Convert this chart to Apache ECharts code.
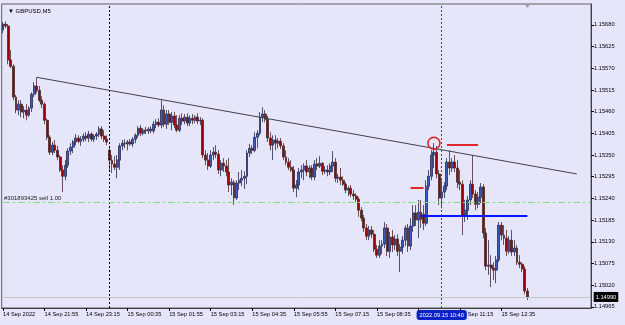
<!DOCTYPE html>
<html><head><meta charset="utf-8">
<script src="https://cdn.jsdelivr.net/npm/echarts@6/dist/echarts.min.js"></script>
<style>html,body{margin:0;padding:0;background:#e6e6fa}#c{width:625px;height:325px}</style>
</head><body><div id="c"></div>
<script>
const symbolTitle = '\u25BC GBPUSD,M5';
const openP = [
1.15667,1.15682,1.15677,1.15591,1.15575,1.15497,1.15464,1.15479,1.15459,1.15464,
1.15451,1.15469,1.15504,1.15525,1.15514,1.15489,1.15479,1.15438,1.15395,1.15357,
1.15375,1.15362,1.15345,1.15312,1.15296,1.15324,1.15360,1.15370,1.15383,1.15393,
1.15385,1.15390,1.15398,1.15393,1.15403,1.15390,1.15398,1.15403,1.15416,1.15398,
1.15390,1.15362,1.15337,1.15327,1.15319,1.15337,1.15373,1.15380,1.15378,1.15383,
1.15378,1.15390,1.15400,1.15418,1.15405,1.15413,1.15411,1.15416,1.15411,1.15428,
1.15433,1.15426,1.15464,1.15428,1.15454,1.15433,1.15449,1.15426,1.15413,1.15443,
1.15436,1.15446,1.15431,1.15443,1.15438,1.15446,1.15436,1.15438,1.15350,1.15337,
1.15322,1.15350,1.15357,1.15352,1.15312,1.15329,1.15322,1.15307,1.15274,1.15281,
1.15241,1.15279,1.15286,1.15291,1.15296,1.15355,1.15367,1.15362,1.15395,1.15405,
1.15446,1.15454,1.15441,1.15393,1.15375,1.15388,1.15380,1.15385,1.15373,1.15345,
1.15332,1.15319,1.15312,1.15266,1.15274,1.15307,1.15312,1.15322,1.15307,1.15317,
1.15294,1.15327,1.15322,1.15329,1.15309,1.15312,1.15307,1.15322,1.15332,1.15291,
1.15294,1.15286,1.15276,1.15261,1.15266,1.15251,1.15246,1.15238,1.15210,1.15190,
1.15165,1.15144,1.15160,1.15149,1.15111,1.15096,1.15119,1.15124,1.15165,1.15106,
1.15142,1.15122,1.15137,1.15106,1.15116,1.15134,1.15165,1.15119,1.15170,1.15203,
1.15185,1.15205,1.15200,1.15177,1.15271,1.15296,1.15350,1.15357,1.15302,1.15241,
1.15256,1.15271,1.15332,1.15317,1.15332,1.15317,1.15281,1.15276,1.15198,1.15210,
1.15236,1.15276,1.15251,1.15225,1.15243,1.15269,1.15152,1.15068,1.15071,1.15063,
1.15058,1.15084,1.15172,1.15147,1.15139,1.15106,1.15134,1.15104,1.15114,1.15078,
1.15073,1.15061,1.15005];
const highP = [
1.15687,1.15689,1.15682,1.15616,1.15580,1.15502,1.15489,1.15489,1.15474,1.15479,
1.15474,1.15509,1.15535,1.15547,1.15525,1.15499,1.15484,1.15443,1.15400,1.15383,
1.15388,1.15373,1.15350,1.15324,1.15337,1.15367,1.15380,1.15388,1.15403,1.15400,
1.15398,1.15405,1.15408,1.15411,1.15408,1.15403,1.15408,1.15423,1.15423,1.15413,
1.15400,1.15373,1.15350,1.15347,1.15350,1.15380,1.15388,1.15390,1.15388,1.15390,
1.15395,1.15405,1.15423,1.15426,1.15418,1.15421,1.15421,1.15423,1.15436,1.15441,
1.15443,1.15489,1.15476,1.15464,1.15464,1.15459,1.15459,1.15451,1.15451,1.15456,
1.15454,1.15456,1.15451,1.15454,1.15451,1.15456,1.15446,1.15443,1.15362,1.15355,
1.15362,1.15370,1.15375,1.15362,1.15337,1.15342,1.15337,1.15342,1.15291,1.15286,
1.15286,1.15307,1.15312,1.15309,1.15362,1.15378,1.15375,1.15408,1.15413,1.15459,
1.15471,1.15464,1.15449,1.15408,1.15400,1.15400,1.15393,1.15393,1.15380,1.15362,
1.15342,1.15337,1.15322,1.15286,1.15317,1.15324,1.15329,1.15337,1.15324,1.15324,
1.15337,1.15342,1.15347,1.15332,1.15322,1.15324,1.15329,1.15360,1.15342,1.15302,
1.15317,1.15296,1.15281,1.15271,1.15274,1.15261,1.15253,1.15243,1.15218,1.15198,
1.15175,1.15170,1.15170,1.15160,1.15122,1.15134,1.15134,1.15180,1.15175,1.15155,
1.15160,1.15147,1.15149,1.15124,1.15144,1.15172,1.15175,1.15190,1.15223,1.15223,
1.15236,1.15236,1.15223,1.15286,1.15312,1.15362,1.15380,1.15373,1.15312,1.15286,
1.15281,1.15342,1.15362,1.15342,1.15350,1.15337,1.15312,1.15286,1.15236,1.15246,
1.15286,1.15350,1.15261,1.15256,1.15279,1.15276,1.15165,1.15134,1.15096,1.15078,
1.15094,1.15180,1.15180,1.15172,1.15160,1.15144,1.15160,1.15134,1.15122,1.15096,
1.15078,1.15068,1.15013];
const lowP = [
1.15659,1.15672,1.15580,1.15570,1.15489,1.15456,1.15451,1.15446,1.15443,1.15438,
1.15446,1.15459,1.15497,1.15507,1.15484,1.15469,1.15428,1.15388,1.15350,1.15350,
1.15355,1.15337,1.15307,1.15256,1.15286,1.15317,1.15350,1.15355,1.15375,1.15380,
1.15373,1.15383,1.15385,1.15383,1.15385,1.15383,1.15388,1.15395,1.15390,1.15383,
1.15375,1.15307,1.15304,1.15312,1.15291,1.15312,1.15362,1.15367,1.15362,1.15373,
1.15370,1.15380,1.15393,1.15398,1.15400,1.15403,1.15403,1.15405,1.15405,1.15418,
1.15421,1.15418,1.15421,1.15416,1.15426,1.15413,1.15418,1.15408,1.15408,1.15426,
1.15428,1.15423,1.15423,1.15428,1.15431,1.15428,1.15426,1.15342,1.15324,1.15312,
1.15317,1.15337,1.15342,1.15302,1.15296,1.15307,1.15296,1.15256,1.15248,1.15223,
1.15236,1.15261,1.15271,1.15264,1.15276,1.15345,1.15352,1.15357,1.15367,1.15400,
1.15433,1.15433,1.15383,1.15362,1.15337,1.15362,1.15367,1.15365,1.15337,1.15324,
1.15312,1.15307,1.15256,1.15243,1.15261,1.15291,1.15286,1.15296,1.15291,1.15286,
1.15286,1.15312,1.15317,1.15299,1.15302,1.15296,1.15299,1.15307,1.15281,1.15279,
1.15274,1.15271,1.15253,1.15246,1.15243,1.15236,1.15231,1.15193,1.15182,1.15155,
1.15134,1.15134,1.15139,1.15104,1.15089,1.15089,1.15099,1.15114,1.15094,1.15089,
1.15104,1.15109,1.15094,1.15053,1.15099,1.15119,1.15104,1.15109,1.15155,1.15170,
1.15139,1.15165,1.15160,1.15170,1.15261,1.15286,1.15317,1.15291,1.15223,1.15215,
1.15241,1.15261,1.15299,1.15307,1.15307,1.15266,1.15261,1.15147,1.15180,1.15185,
1.15223,1.15241,1.15210,1.15215,1.15228,1.15139,1.15058,1.15046,1.15015,1.15033,
1.15025,1.15078,1.15134,1.15122,1.15094,1.15099,1.15094,1.15094,1.15071,1.15063,
1.15053,1.14997,1.14982];
const closeP = [
1.15682,1.15677,1.15591,1.15575,1.15497,1.15464,1.15479,1.15459,1.15464,1.15451,
1.15469,1.15504,1.15525,1.15514,1.15489,1.15479,1.15438,1.15395,1.15357,1.15375,
1.15362,1.15345,1.15312,1.15296,1.15324,1.15360,1.15370,1.15383,1.15393,1.15385,
1.15390,1.15398,1.15393,1.15403,1.15390,1.15398,1.15403,1.15416,1.15398,1.15390,
1.15383,1.15337,1.15327,1.15319,1.15337,1.15373,1.15380,1.15378,1.15383,1.15378,
1.15390,1.15400,1.15418,1.15405,1.15413,1.15411,1.15416,1.15411,1.15428,1.15433,
1.15426,1.15464,1.15428,1.15454,1.15433,1.15449,1.15426,1.15413,1.15443,1.15436,
1.15446,1.15431,1.15443,1.15438,1.15446,1.15436,1.15438,1.15350,1.15337,1.15322,
1.15350,1.15357,1.15352,1.15312,1.15329,1.15322,1.15307,1.15274,1.15281,1.15241,
1.15279,1.15286,1.15291,1.15296,1.15355,1.15367,1.15362,1.15395,1.15405,1.15446,
1.15454,1.15441,1.15393,1.15375,1.15388,1.15380,1.15385,1.15373,1.15345,1.15332,
1.15319,1.15312,1.15266,1.15274,1.15307,1.15312,1.15322,1.15307,1.15317,1.15294,
1.15327,1.15322,1.15329,1.15309,1.15312,1.15307,1.15322,1.15332,1.15291,1.15294,
1.15286,1.15276,1.15261,1.15266,1.15251,1.15246,1.15238,1.15210,1.15190,1.15165,
1.15144,1.15160,1.15149,1.15111,1.15096,1.15119,1.15124,1.15165,1.15106,1.15142,
1.15122,1.15137,1.15106,1.15116,1.15134,1.15165,1.15119,1.15170,1.15203,1.15185,
1.15205,1.15187,1.15177,1.15271,1.15296,1.15350,1.15357,1.15302,1.15241,1.15256,
1.15271,1.15332,1.15317,1.15332,1.15317,1.15281,1.15276,1.15198,1.15210,1.15236,
1.15276,1.15251,1.15225,1.15243,1.15269,1.15152,1.15068,1.15071,1.15063,1.15058,
1.15084,1.15172,1.15147,1.15139,1.15106,1.15134,1.15104,1.15114,1.15078,1.15073,
1.15061,1.15005,1.14990];
const tickLabels = ['14 Sep 2022','14 Sep 21:55','14 Sep 23:15','15 Sep 00:35','15 Sep 01:55','15 Sep 03:15','15 Sep 04:35','15 Sep 05:55','15 Sep 07:15','15 Sep 08:35','15 Sep 09:55','15 Sep 11:15','15 Sep 12:35'];
const priceTicks = [1.14965,1.15020,1.15075,1.15130,1.15185,1.15240,1.15295,1.15350,1.15405,1.15460,1.15515,1.15570,1.15625,1.15680];
const bidPrice = 1.14990;
const orderPrice = 1.15231;
const orderLabel = '#301893425 sell 1.00';
const crossIndex = 169;
const crossLabel = '2022.09.15 10:40';
const separatorIndex = 41;
const shiftIndex = 202;
const trendStart = [13, 1.15547];
const trendEnd = [221, 1.15302];
const circlePoint = [166, 1.15380];
const redSeg1 = [[171, 1.15375], [183, 1.15375]];
const redSeg2 = [[157, 1.15268], [162, 1.15268]];
const blueSeg = [[161, 1.15196], [202, 1.15196]];
const priceMin = 1.14962, priceMax = 1.15733;

// time categories (5-minute bars)
const slotCount = 227;
const mon = ['Jan','Feb','Mar','Apr','May','Jun','Jul','Aug','Sep','Oct','Nov','Dec'];
const t0 = Date.UTC(2022, 8, 14, 20, 35);
const pad = n => (n < 10 ? '0' : '') + n;
const cats = [];
for (let i = 0; i < slotCount; i++) {
  const d = new Date(t0 + i * 300000);
  cats.push(pad(d.getUTCDate()) + ' ' + mon[d.getUTCMonth()] + ' ' + pad(d.getUTCHours()) + ':' + pad(d.getUTCMinutes()));
}
const candles = openP.map((o, i) => [o, closeP[i], lowP[i], highP[i]]);
const C = i => cats[i];
const FF = 'Liberation Sans';
const isLab = i => i % 16 === 0 && (i / 16) < tickLabels.length;
const seg = (a, b, style, label) => [
  {coord: [C(a[0]), a[1]], lineStyle: style, label: label || {show: false}},
  {coord: [C(b[0]), b[1]], lineStyle: style, label: label || {show: false}}
];
const firstCat = 0, lastCat = slotCount - 1;

const chart = echarts.init(document.getElementById('c'), null, {renderer: 'canvas'});
chart.setOption({
  animation: false,
  backgroundColor: '#e6e6fa',
  title: {text: symbolTitle, left: 3, top: 3, textStyle: {fontSize: 6, fontWeight: 'normal', color: '#000', fontFamily: FF}},
  grid: {left: 1, right: 34, top: 4, bottom: 17, show: true, backgroundColor: '#e6e6fa', borderColor: '#606060', borderWidth: 1},
  xAxis: {
    type: 'category', data: cats, boundaryGap: true,
    axisLine: {show: true, lineStyle: {color: '#404040'}},
    axisTick: {show: true, interval: isLab, alignWithLabel: true, length: 3, lineStyle: {color: '#000'}},
    axisLabel: {interval: isLab, formatter: (v, i) => tickLabels[i / 16], align: 'left', fontSize: 5.7, color: '#000', margin: 3, fontFamily: FF},
    splitLine: {show: false},
    axisPointer: {
      show: true, type: 'line', value: crossIndex, status: 'show', snap: false, triggerTooltip: false,
      lineStyle: {color: '#3030ff', type: [2, 2], width: 1},
      label: {show: true, formatter: crossLabel, backgroundColor: '#0a22c8', color: '#fff', fontSize: 5.7, fontFamily: FF, padding: [2, 3], margin: 2}
    }
  },
  yAxis: {
    type: 'value', position: 'right', min: priceMin, max: priceMax, scale: true,
    axisLine: {show: true, lineStyle: {color: '#404040'}},
    axisTick: {show: true, customValues: priceTicks, length: 3, lineStyle: {color: '#000'}},
    axisLabel: {customValues: priceTicks, formatter: v => v.toFixed(5), fontSize: 5.7, color: '#000', margin: 3, fontFamily: FF},
    splitLine: {show: false}
  },
  series: [{
    type: 'candlestick', data: candles, barWidth: 2.4,
    itemStyle: {color: '#3a5cc0', color0: '#a00000', borderColor: '#2a2a55', borderColor0: '#4a2a2a', borderWidth: 0.8},
    markLine: {
      silent: true, symbol: ['none', 'none'], label: {show: false}, animation: false,
      data: [
        {xAxis: C(separatorIndex), lineStyle: {color: '#000', type: [2, 2], width: 1}},
        seg([firstCat, bidPrice], [lastCat, bidPrice], {color: '#c4c4c4', type: 'solid', width: 1},
          {show: true, position: 'end', formatter: bidPrice.toFixed(5), backgroundColor: '#000', color: '#fff', fontSize: 5.7, fontFamily: FF, padding: [2, 2], distance: 4}),
        seg([firstCat, orderPrice], [lastCat, orderPrice], {color: '#84dc84', type: [7, 3, 2, 3], width: 1},
          {show: true, position: 'insideStartTop', formatter: orderLabel, color: '#202020', fontSize: 6, fontFamily: FF, distance: 1}),
        seg(trendStart, trendEnd, {color: '#404048', type: 'solid', width: 1}),
        seg(redSeg1[0], redSeg1[1], {color: '#e02828', type: 'solid', width: 2}),
        seg(redSeg2[0], redSeg2[1], {color: '#e02828', type: 'solid', width: 2}),
        seg(blueSeg[0], blueSeg[1], {color: '#0a14ff', type: 'solid', width: 2})
      ]
    },
    markPoint: {
      silent: true, animation: false,
      data: [
        {coord: [C(circlePoint[0]), circlePoint[1]], symbol: 'circle', symbolSize: 12,
          itemStyle: {color: 'rgba(0,0,0,0)', borderColor: '#e02020', borderWidth: 1.5}, label: {show: false}},
        {coord: [C(shiftIndex), priceMax], symbol: 'triangle', symbolRotate: 180, symbolSize: [6, 4], symbolOffset: [0, 2],
          itemStyle: {color: '#a0a0a8'}, label: {show: false}}
      ]
    }
  }]
});
</script>
</body></html>
